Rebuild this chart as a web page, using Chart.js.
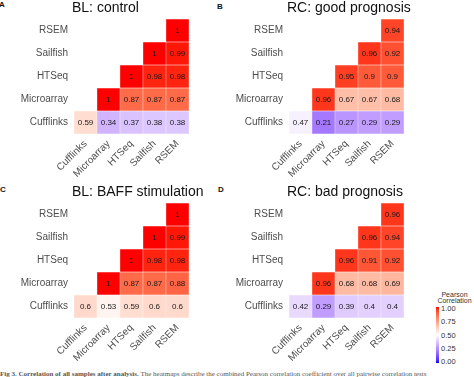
<!DOCTYPE html>
<html>
<head>
<meta charset="utf-8">
<script src="https://cdn.jsdelivr.net/npm/chart.js@4.4.1/dist/chart.umd.min.js"></script>
<style>
  html, body { margin:0; padding:0; background:#fff; }
  body { width:474px; height:377px; position:relative; overflow:hidden; font-family:"Liberation Sans", Arial, sans-serif; }
  canvas { position:absolute; }
  .letter { position:absolute; font: bold 8px "Liberation Sans", Arial, sans-serif; color:#111; line-height:8px; }
  .lgtick { position:absolute; font: 7.5px "Liberation Sans", Arial, sans-serif; color:#333; line-height:8px; transform: translateY(-50%); }
  #lgtitle { position:absolute; left:435px; top:292px; width:39px; text-align:center; font:7px "Liberation Sans", Arial, sans-serif; line-height:6px; color:#333; white-space:nowrap; }
  #caption { position:absolute; left:0; top:370px; white-space:nowrap; font:7px "Liberation Serif", "Times New Roman", serif; line-height:8px; color:#555; }
</style>
</head>
<body>
<div class="letter" style="left:-1px;top:1px">A</div>
<div class="letter" style="left:217px;top:3px">B</div>
<div class="letter" style="left:0px;top:186px">C</div>
<div class="letter" style="left:218px;top:186px">D</div>

<canvas id="pA" width="215" height="184" style="left:0;top:0"></canvas>
<canvas id="pB" width="215" height="184" style="left:215px;top:0"></canvas>
<canvas id="pC" width="215" height="186" style="left:0;top:184px"></canvas>
<canvas id="pD" width="215" height="186" style="left:215px;top:184px"></canvas>

<div id="lgtitle">Pearson<br>Correlation</div>
<div id="lgbar" style="position:absolute;left:436px;top:307px;width:3px;height:56px"></div>
<div id="lgticks"></div>

<div id="caption"><b>Fig 3. Correlation of all samples after analysis.</b> The heatmaps describe the combined Pearson correlation coefficient over all pairwise correlation tests</div>

<script>
// ---------------- data ----------------
const methods = ['Cufflinks', 'Microarray', 'HTSeq', 'Sailfish', 'RSEM'];

// rows (bottom to top): Cufflinks, Microarray, HTSeq, Sailfish, RSEM; columns follow `methods`
const blControl = [
  [0.59, 0.34, 0.37, 0.38, 0.38],
  [null, 1, 0.87, 0.87, 0.87],
  [null, null, 1, 0.98, 0.98],
  [null, null, null, 1, 0.99],
  [null, null, null, null, 1]
];
const rcGood = [
  [0.47, 0.21, 0.27, 0.29, 0.29],
  [null, 0.96, 0.67, 0.67, 0.68],
  [null, null, 0.95, 0.9, 0.9],
  [null, null, null, 0.96, 0.92],
  [null, null, null, null, 0.94]
];
const blBaff = [
  [0.6, 0.53, 0.59, 0.6, 0.6],
  [null, 1, 0.87, 0.87, 0.88],
  [null, null, 1, 0.98, 0.98],
  [null, null, null, 1, 0.99],
  [null, null, null, null, 1]
];
const rcBad = [
  [0.42, 0.29, 0.39, 0.4, 0.4],
  [null, 0.96, 0.68, 0.68, 0.69],
  [null, null, 0.96, 0.91, 0.92],
  [null, null, null, 0.96, 0.94],
  [null, null, null, null, 0.96]
];
const legendTicks = [1.00, 0.75, 0.50, 0.25, 0.00];

// ---------------- colour scale (blue - white - red, Lab interpolation, midpoint 0.5) ----------------
function toLin(c){ c/=255; return c<=0.04045 ? c/12.92 : Math.pow((c+0.055)/1.055, 2.4); }
function fromLin(c){ c = c<=0.0031308 ? 12.92*c : 1.055*Math.pow(c,1/2.4)-0.055; return Math.round(Math.max(0,Math.min(1,c))*255); }
function rgb2lab(r,g,b){
  r=toLin(r); g=toLin(g); b=toLin(b);
  let X=(0.4124564*r+0.3575761*g+0.1804375*b)/0.95047;
  let Y=(0.2126729*r+0.7151522*g+0.0721750*b);
  let Z=(0.0193339*r+0.1191920*g+0.9503041*b)/1.08883;
  const f=t=> t>0.008856 ? Math.cbrt(t) : 7.787*t+16/116;
  const fx=f(X), fy=f(Y), fz=f(Z);
  return [116*fy-16, 500*(fx-fy), 200*(fy-fz)];
}
function lab2rgb(L,a,b){
  const fy=(L+16)/116, fx=fy+a/500, fz=fy-b/200;
  const fi=t=> t*t*t>0.008856 ? t*t*t : (t-16/116)/7.787;
  const X=fi(fx)*0.95047, Y=fi(fy), Z=fi(fz)*1.08883;
  const r= 3.2404542*X-1.5371385*Y-0.4985314*Z;
  const g=-0.9692660*X+1.8760108*Y+0.0415560*Z;
  const bb=0.0556434*X-0.2040259*Y+1.0572252*Z;
  return [fromLin(r), fromLin(g), fromLin(bb)];
}
const LAB_LOW = rgb2lab(0,0,255), LAB_MID = rgb2lab(255,255,255), LAB_HIGH = rgb2lab(255,0,0);
function corrColor(v){
  let A, B, t;
  if (v >= 0.5){ A=LAB_MID; B=LAB_HIGH; t=(v-0.5)/0.5; } else { A=LAB_LOW; B=LAB_MID; t=v/0.5; }
  t=Math.max(0,Math.min(1,t));
  const c = lab2rgb(A[0]+(B[0]-A[0])*t, A[1]+(B[1]-A[1])*t, A[2]+(B[2]-A[2])*t);
  return `rgb(${c[0]},${c[1]},${c[2]})`;
}

// ---------------- plugins ----------------
const cellText = {
  id: 'cellText',
  afterDatasetsDraw(chart){
    const ctx = chart.ctx;
    ctx.save();
    ctx.font = '8px "Liberation Sans", Arial, sans-serif';
    ctx.fillStyle = '#1a1a1a';
    ctx.textAlign = 'center';
    ctx.textBaseline = 'middle';
    chart.data.datasets.forEach((ds, i) => {
      const meta = chart.getDatasetMeta(i);
      meta.data.forEach((bar, j) => {
        const v = ds.values[j];
        if (v == null) return;
        const p = bar.getCenterPoint();
        ctx.fillText(String(v), p.x, p.y + 0.5);
      });
    });
    ctx.restore();
  }
};
const panelTitle = {
  id: 'panelTitle',
  afterDraw(chart, args, opts){
    const ctx = chart.ctx;
    ctx.save();
    ctx.font = '14px "Liberation Sans", Arial, sans-serif';
    ctx.fillStyle = '#111';
    ctx.textAlign = 'left';
    ctx.textBaseline = 'alphabetic';
    ctx.fillText(opts.text, chart.chartArea.left - 2, 12);
    ctx.restore();
  }
};

const AXIS_W = 74, TOP_PAD = 19, AREA = 115;

function makePanel(id, title, rows){
  const canvas = document.getElementById(id);
  const H = canvas.height, W = canvas.width;
  const datasets = rows.map((row, r) => ({
    data: methods.map((m, c) => row[c] == null ? null : [r - 0.5, r + 0.5]),
    values: row,
    backgroundColor: row.map(v => v == null ? 'rgba(0,0,0,0)' : corrColor(v)),
    borderColor: 'rgba(255,255,255,0.55)',
    borderWidth: 0.5,
    borderSkipped: false,
    barPercentage: 1,
    categoryPercentage: 1
  }));
  return new Chart(canvas, {
    type: 'bar',
    data: { labels: methods, datasets },
    options: {
      responsive: false,
      animation: false,
      devicePixelRatio: 1,
      layout: { padding: { left: 0, top: TOP_PAD, right: W - AXIS_W - AREA, bottom: 0 } },
      plugins: {
        legend: { display: false },
        tooltip: { enabled: false },
        panelTitle: { text: title }
      },
      scales: {
        x: {
          type: 'category',
          stacked: true,
          offset: true,
          grid: { display: false, drawTicks: false },
          border: { display: false },
          ticks: {
            minRotation: 45, maxRotation: 45, autoSkip: false,
            padding: 4,
            color: '#4d4d4d',
            font: { family: '"Liberation Sans", Arial, sans-serif', size: 10 }
          },
          afterFit(s){ s.height = H - TOP_PAD - AREA; }
        },
        y: {
          type: 'linear',
          stacked: false,
          min: -0.5, max: 4.5,
          grid: { display: false, drawTicks: false },
          border: { display: false },
          afterBuildTicks(s){ s.ticks = methods.map((m, i) => ({ value: i })); },
          ticks: {
            padding: 6,
            color: '#4d4d4d',
            font: { family: '"Liberation Sans", Arial, sans-serif', size: 10 },
            callback: v => methods[v]
          },
          afterFit(s){ s.width = AXIS_W; }
        }
      }
    },
    plugins: [cellText, panelTitle]
  });
}

makePanel('pA', 'BL: control', blControl);
makePanel('pB', 'RC: good prognosis', rcGood);
makePanel('pC', 'BL: BAFF stimulation', blBaff);
makePanel('pD', 'RC: bad prognosis', rcBad);

// ---------------- colour bar legend ----------------
const bar = document.getElementById('lgbar');
const stops = [];
for (let i = 0; i <= 20; i++){ const v = i/20; stops.push(`${corrColor(v)} ${(v*100).toFixed(1)}%`); }
bar.style.background = `linear-gradient(to top, ${stops.join(', ')})`;
const tickBox = document.getElementById('lgticks');
legendTicks.forEach(v => {
  const d = document.createElement('div');
  d.className = 'lgtick';
  d.style.left = '441px';
  d.style.top = (309 + (1 - v) * 53) + 'px';
  d.textContent = v.toFixed(2);
  tickBox.appendChild(d);
});
</script>
</body>
</html>
